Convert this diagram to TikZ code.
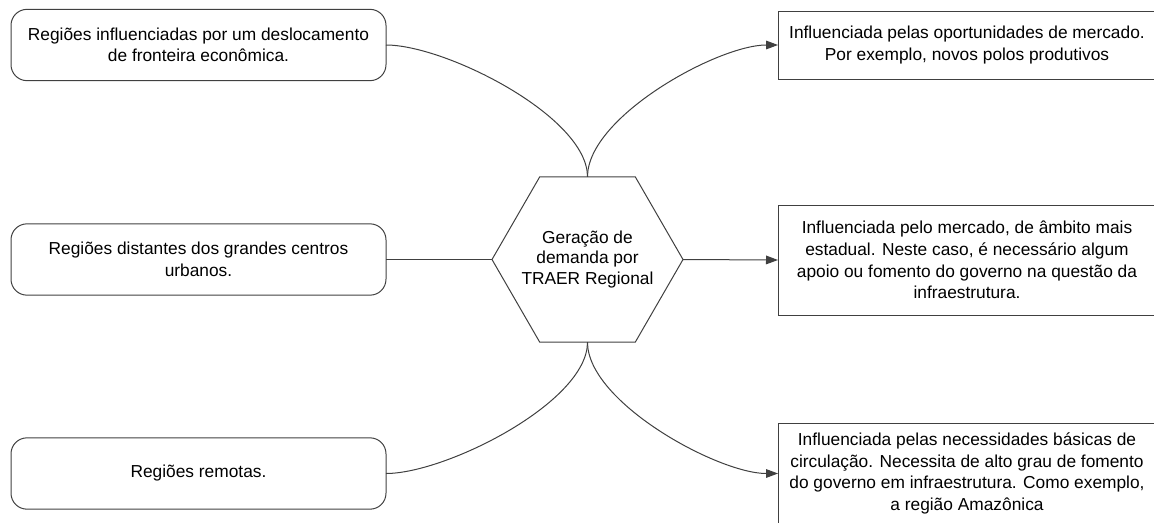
\documentclass[tikz,border=0pt]{standalone}
\usepackage{fontspec}
\setmainfont{Liberation Sans}
\usetikzlibrary{arrows.meta,shapes.geometric}
\definecolor{linegrey}{RGB}{64,64,64}

\begin{document}
\begin{tikzpicture}[x=0.75pt,y=0.75pt,yscale=-1,xscale=1,
        boxtext/.style={align=center,inner sep=0pt,outer sep=0pt,font=\fontsize{13pt}{16.2pt}\selectfont},
        regbox/.style={boxtext,draw=linegrey,line width=0.75pt,rounded corners=12pt,minimum width=281.25pt,minimum height=53.5pt},
        infbox/.style={boxtext,draw=linegrey,line width=0.75pt,minimum width=283.5pt},
        hexnode/.style={draw=linegrey,line width=0.75pt,inner sep=0pt,outer sep=0pt,regular polygon,regular polygon sides=6,minimum size=143.25pt},
        hextext/.style={boxtext,font=\fontsize{13pt}{15.4pt}\selectfont},
        link/.style={draw=linegrey,line width=0.75pt},
        arrowlink/.style={link,-{Triangle[length=9pt,width=6.5pt]}}]
        \useasboundingbox (0,0) rectangle (1154,522);
        \clip (0,0) rectangle (1154,522);

        %Shape: Hexagon
        \node [hexnode,label={[hextext]center:{Geração de\\demanda por\\TRAER Regional}}] (hex) at (587.5,259.5) {};

        %Shape: Rounded Rect
        \node [regbox] (reg1) at (198.5,45) {Regiões influenciadas por um deslocamento\\de fronteira econômica.};
        %Shape: Rounded Rect
        \node [regbox] (reg2) at (198.5,259.5) {Regiões distantes dos grandes centros\\urbanos.};
        %Shape: Rounded Rect
        \node [regbox] (reg3) at (198.5,473.5) {Regiões remotas.};

        %Shape: Rectangle
        \node [infbox,minimum height=51pt] (inf1) at (967,45) {Influenciada pelas oportunidades de mercado.\\Por exemplo, novos polos produtivos};
        %Shape: Rectangle
        \node [infbox,minimum height=82.5pt] (inf2) at (967,260) {Influenciada pelo mercado, de âmbito mais\\estadual. Neste caso, é necessário algum\\apoio ou fomento do governo na questão da\\infraestrutura.};
        %Shape: Rectangle
        \node [infbox,minimum height=75.75pt] (inf3) at (967,473.5) {Influenciada pelas necessidades básicas de\\circulação. Necessita de alto grau de fomento\\do governo em infraestrutura. Como exemplo,\\a região Amazônica};

        %Curve Lines
        \draw [link] (hex.north) .. controls +(0,-60) and +(60,0) .. (reg1.east) ;
        \draw [arrowlink] (hex.north) .. controls +(0,-60) and +(-60,0) .. (inf1.west) ;
        %Straight Lines
        \draw [link] (reg2.east) -- (hex.west) ;
        \draw [arrowlink] (hex.east) -- (inf2.west) ;
        %Curve Lines
        \draw [link] (hex.south) .. controls +(0,60) and +(60,0) .. (reg3.east) ;
        \draw [arrowlink] (hex.south) .. controls +(0,60) and +(-60,0) .. (inf3.west) ;
    \end{tikzpicture}
\end{document}
